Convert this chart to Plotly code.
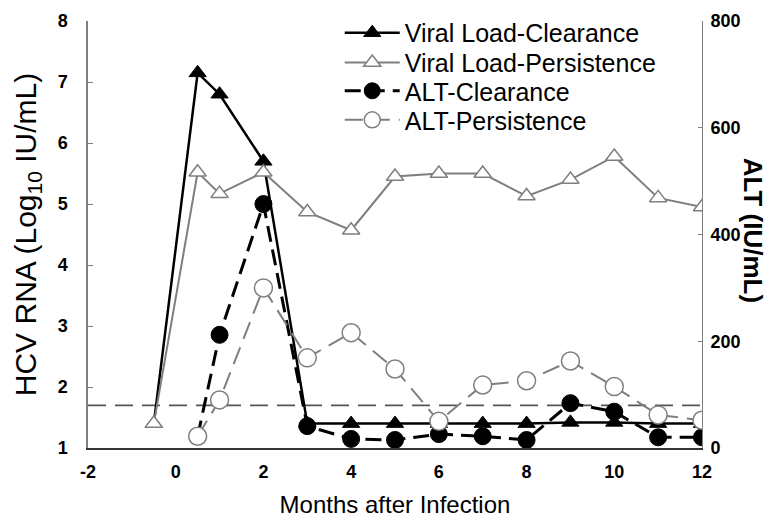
import plotly.graph_objects as go

# ---- data ----
months_vl_c = [-0.5, 0.5, 1, 2, 3, 4, 5, 6, 7, 8, 9, 10, 11, 12]
vl_clearance = [1.4, 7.15, 6.8, 5.7, 1.4, 1.4, 1.4, 1.4, 1.4, 1.4, 1.42, 1.42, 1.4, 1.4]

months_vl_p = [-0.5, 0.5, 1, 2, 3, 4, 5, 6, 7, 8, 9, 10, 11, 12]
vl_persistence = [1.4, 5.52, 5.17, 5.52, 4.87, 4.57, 5.45, 5.5, 5.5, 5.13, 5.4, 5.78, 5.1, 4.95]

months_alt = [0.5, 1, 2, 3, 4, 5, 6, 7, 8, 9, 10, 11, 12]
alt_clearance = [22, 212, 457, 41, 17, 15, 26, 22, 15, 84, 68, 20, 20]
alt_persistence = [22, 90, 300, 169, 216, 148, 50, 118, 126, 163, 115, 62, 52]

detection_limit = 1.7  # log10(50 IU/mL)

x_ticks = [-2, 0, 2, 4, 6, 8, 10, 12]
y_ticks = [1, 2, 3, 4, 5, 6, 7, 8]
y2_ticks = [0, 200, 400, 600, 800]

names = ["Viral Load-Clearance", "Viral Load-Persistence", "ALT-Clearance", "ALT-Persistence"]

GRAY = "#7f7f7f"
FONT = "Liberation Sans, Arial, sans-serif"


def bold(vals):
    return ["<b>%s</b>" % v for v in vals]


fig = go.Figure()

fig.add_trace(go.Scatter(
    x=months_vl_c, y=vl_clearance, name=names[0], mode="lines+markers",
    line=dict(color="black", width=2.5),
    marker=dict(symbol="triangle-up", size=15, color="black", line=dict(color="black", width=1)),
    legend="legend", showlegend=True,
))
fig.add_trace(go.Scatter(
    x=months_vl_p, y=vl_persistence, name=names[1], mode="lines+markers",
    line=dict(color=GRAY, width=2),
    marker=dict(symbol="triangle-up", size=15, color="white", line=dict(color=GRAY, width=1.5)),
    legend="legend2", showlegend=True,
))
fig.add_trace(go.Scatter(
    x=months_alt, y=alt_clearance, name=names[2], mode="lines+markers", yaxis="y2",
    line=dict(color="black", width=3, dash="16px,8px"),
    marker=dict(symbol="circle", size=17, color="black", line=dict(color="black", width=1)),
    legend="legend3", showlegend=True,
))
fig.add_trace(go.Scatter(
    x=months_alt, y=alt_persistence, name=names[3], mode="lines+markers", yaxis="y2",
    line=dict(color=GRAY, width=2, dash="18px,9px"),
    marker=dict(symbol="circle", size=18, color="white", line=dict(color=GRAY, width=1.5)),
    legend="legend4", showlegend=True,
))

fig.add_shape(type="line", xref="x", yref="y", x0=x_ticks[0], x1=x_ticks[-1],
              y0=detection_limit, y1=detection_limit,
              line=dict(color="#555555", width=1.8, dash="18px,9px"), layer="below")

tickfont = dict(family=FONT, size=18, color="black")

leg_common = dict(font=dict(family=FONT, size=25, color="black"), bgcolor="rgba(0,0,0,0)",
                  xanchor="left", yanchor="middle", itemwidth=55, x=0.41)

fig.update_layout(
    width=781, height=519,
    margin=dict(l=80, r=87, t=13, b=79, autoexpand=False),
    showlegend=True,
    paper_bgcolor="white", plot_bgcolor="white",
    font=dict(family=FONT, color="black"),
    xaxis=dict(range=[x_ticks[0], x_ticks[-1]], tickvals=x_ticks, ticktext=bold(x_ticks),
               showgrid=False, zeroline=False, automargin=False,
               showline=True, linecolor="#333333", linewidth=2, ticks="",
               tickfont=tickfont, ticklabelstandoff=6,
               title=dict(text="Months after Infection", font=dict(family=FONT, size=24), standoff=16)),
    yaxis=dict(range=[y_ticks[0], y_ticks[-1]], tickvals=y_ticks, ticktext=bold(y_ticks),
               showgrid=False, zeroline=False, automargin=False,
               showline=True, linecolor=GRAY, linewidth=1.5, ticks="inside", ticklen=5, tickcolor=GRAY,
               tickfont=tickfont, ticklabelstandoff=15,
               title=dict(text="HCV RNA (Log<sub>10</sub> IU/mL)", font=dict(family=FONT, size=30), standoff=12)),
    yaxis2=dict(range=[y2_ticks[0], y2_ticks[-1]], tickvals=y2_ticks, ticktext=bold(y2_ticks),
                overlaying="y", side="right", automargin=False,
                showgrid=False, zeroline=False, showline=True, linecolor=GRAY, linewidth=1,
                ticks="inside", ticklen=4, tickcolor=GRAY, tickfont=tickfont, ticklabelstandoff=4),
    legend=dict(y=0.972, **leg_common),
    legend2=dict(y=0.902, **leg_common),
    legend3=dict(y=0.836, **leg_common),
    legend4=dict(y=0.768, **leg_common),
    annotations=[dict(text="<b>ALT (IU/mL)</b>", textangle=90, xref="paper", yref="paper",
                      x=1.11, y=0.51, showarrow=False,
                      font=dict(family=FONT, size=26, color="black"))],
)

fig.write_html("out.html")
